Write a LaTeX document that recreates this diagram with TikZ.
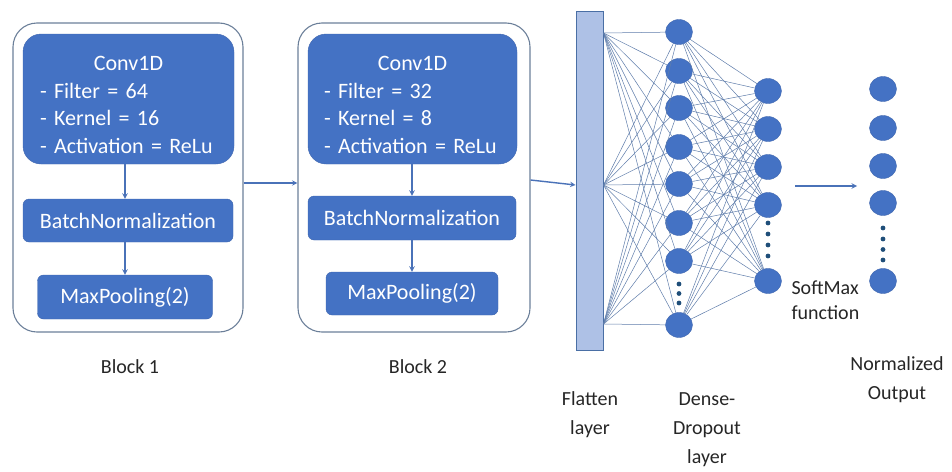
\documentclass[tikz,border=0pt]{standalone}
\usepackage{fontspec}
\setmainfont{Carlito}
\usepackage{tikz}
\usetikzlibrary{shapes.geometric,arrows,positioning}
\definecolor{nnblue}{HTML}{4472C4}
\definecolor{nnedge}{HTML}{3F66AE}
\definecolor{boxgray}{HTML}{6B7F99}
\definecolor{barblue}{HTML}{AEC1E6}
\definecolor{barline}{HTML}{4A6FA5}
\definecolor{wirecol}{HTML}{5F7DAB}
\definecolor{arrowcol}{HTML}{4A72B8}
\definecolor{dotcol}{HTML}{1F4E79}
\tikzset
{
    outerbox/.style = {rectangle, draw=boxgray, line width=1.1pt, rounded corners=24pt},
    convbox/.style  = {rectangle, fill=nnblue, draw=nnedge, rounded corners=18pt, text=white, align=left, inner sep=0pt, font=\fontsize{22}{27.5}\selectfont},
    layerbox/.style = {rectangle, fill=nnblue, draw=nnedge, rounded corners=6pt, text=white, inner sep=0pt, minimum height=43pt, font=\fontsize{22}{27.5}\selectfont},
    neuron/.style   = {ellipse, fill=nnblue, draw=nnedge, minimum width=27pt, minimum height=25pt, inner sep=0pt},
    flatbar/.style  = {rectangle, fill=barblue, draw=barline, line width=1pt, inner sep=0pt},
    wire/.style     = {draw=wirecol, line width=0.5pt},
    arrow/.style    = {draw=arrowcol, line width=1.4pt, ->, >=stealth},
    caption/.style  = {align=center, text=black!85, font=\fontsize{20}{29}\selectfont}
}

\begin{document}
\begin{tikzpicture}[x=1pt, y=-1pt]
\useasboundingbox (0,0) rectangle (952,471);
\newcommand\denseX{679}
\newcommand\softX{768}
\newcommand\outX{883}
% block 1
\node(blkA) [outerbox, minimum width=230pt, minimum height=309pt] at (128,177.5) {};
\node(convA) [convbox, minimum width=211pt, minimum height=130pt, text width=177pt] at (128.5,99) {\rule{0pt}{26pt}\hfill Conv1D\hfill\null\\- Filter = 64\\- Kernel = 16\\- Activation = ReLu};
\node(bnA) [layerbox, minimum width=210pt] at (128,220.5) {BatchNormalization};
\node(mpA) [layerbox, minimum width=175pt, minimum height=44pt] at (125,297) {MaxPooling(2)};
% block 2
\node(blkB) [outerbox, minimum width=232pt, minimum height=309pt] at (414,177.5) {};
\node(convB) [convbox, minimum width=209pt, minimum height=130pt, text width=177pt] at (412.5,99) {\rule{0pt}{26pt}\hfill Conv1D\hfill\null\\- Filter = 32\\- Kernel = 8\\- Activation = ReLu};
\node(bnB) [layerbox, minimum width=208pt, minimum height=44pt] at (412,218) {BatchNormalization};
\node(mpB) [layerbox, minimum width=172pt] at (412,293.5) {MaxPooling(2)};
% flatten
\node(flat) [flatbar, minimum width=27pt, minimum height=339pt] at (589.5,180.5) {};
\coordinate(fin) at (flat.west |- 0,185);
\coordinate(fa) at (flat.east |- 0,33);
\coordinate(fb) at (flat.east |- 0,185);
\coordinate(fc) at (flat.east |- 0,324);
% dense-dropout layer
\node(d1) [neuron] at (\denseX,32) {};
\node(d2) [neuron] at (\denseX,71) {};
\node(d3) [neuron] at (\denseX,108) {};
\node(d4) [neuron] at (\denseX,147) {};
\node(d5) [neuron] at (\denseX,184) {};
\node(d6) [neuron] at (\denseX,223) {};
\node(d7) [neuron] at (\denseX,261) {};
\node(d8) [neuron] at (\denseX,325) {};
% softmax layer
\node(s1) [neuron] at (\softX,91) {};
\node(s2) [neuron] at (\softX,129) {};
\node(s3) [neuron] at (\softX,167) {};
\node(s4) [neuron] at (\softX,205) {};
\node(s5) [neuron] at (\softX,281) {};
% output
\node(o1) [neuron] at (\outX,89) {};
\node(o2) [neuron] at (\outX,128) {};
\node(o3) [neuron] at (\outX,166) {};
\node(o4) [neuron] at (\outX,203) {};
\node(o5) [neuron] at (\outX,281) {};
\coordinate(smin) at (795,186);
\coordinate(smout) at (857,186);
% wires
\foreach \f in {fa,fb,fc}
  \foreach \d in {1,...,8}
    \draw[wire] (\f) -- (d\d);
\foreach \d in {1,...,8}
  \foreach \s in {1,...,5}
    \draw[wire] (d\d) -- (s\s);
% dots
\foreach \y in {284,293.5,303}
  \fill[dotcol] (\denseX,\y) circle (2.4pt);
\foreach \y in {223,234,245,256}
  \fill[dotcol] (\softX,\y) circle (2.4pt);
\foreach \y in {228,239,249.5,260}
  \fill[dotcol] (\outX,\y) circle (2.4pt);
% arrows
\draw[arrow] (convA.south -| mpA) -- (bnA.north -| mpA);
\draw[arrow] (bnA.south -| mpA) -- (mpA.north);
\draw[arrow] (convB.south -| mpB) -- (bnB.north -| mpB);
\draw[arrow] (bnB.south -| mpB) -- (mpB.north);
\draw[arrow] (blkA.east |- 0,183) -- (blkB.west |- 0,183);
\draw[arrow] ([yshift=-2.5pt]blkB.east) -- (fin);
\draw[arrow] (smin) -- (smout);
% labels
\node(capA) [caption] at (130,367) {Block 1};
\node(capB) [caption] at (418,367) {Block 2};
\node(capF) [caption] at (590,414.5) {Flatten\\layer};
\node(capD) [caption] at (707,430) {Dense-\\Dropout\\layer};
\node(capS) [caption, align=left, anchor=west, font=\fontsize{20}{25}\selectfont] at (788,300.5) {SoftMax\\function};
\node(capO) [caption] at (897,380) {Normalized\\Output};
\end{tikzpicture}
\end{document}
